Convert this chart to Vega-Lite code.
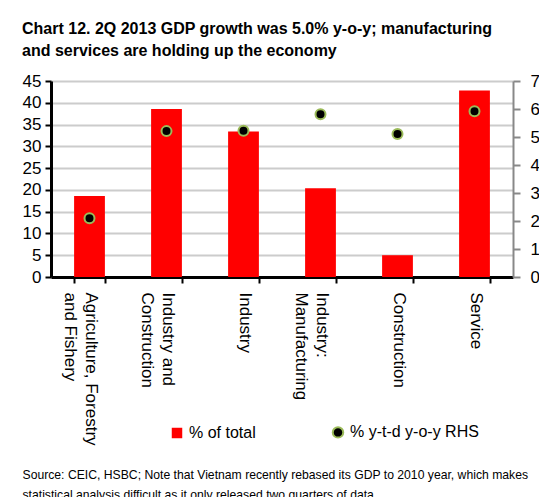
{
  "$schema": "https://vega.github.io/schema/vega-lite/v6.json",
  "width": 462,
  "height": 196,
  "autosize": {"type": "none"},
  "padding": {"left": 51, "top": 81, "right": 26, "bottom": 220},
  "background": "white",
  "title": {
    "text": ["Chart 12. 2Q 2013 GDP growth was 5.0% y-o-y; manufacturing", "and services are holding up the economy"],
    "anchor": "start",
    "frame": "group",
    "dx": -29,
    "offset": 13,
    "font": "Liberation Sans",
    "fontSize": 16,
    "fontWeight": "bold",
    "lineHeight": 22,
    "color": "#000000"
  },
  "data": {
    "values": [
      {"sector": "Agriculture, Forestry|and Fishery", "share": 18.6, "growth": 2.1},
      {"sector": "Industry and|Construction", "share": 38.6, "growth": 5.21},
      {"sector": "Industry", "share": 33.4, "growth": 5.22},
      {"sector": "Industry:|Manufacturing", "share": 20.4, "growth": 5.81},
      {"sector": "Construction", "share": 5.0, "growth": 5.11},
      {"sector": "Service", "share": 42.8, "growth": 5.92}
    ]
  },
  "encoding": {
    "x": {
      "field": "sector",
      "type": "nominal",
      "sort": null,
      "scale": {"paddingInner": 0.6, "paddingOuter": 0.3},
      "axis": {
        "title": ["Source: CEIC, HSBC; Note that Vietnam recently rebased its GDP to 2010 year, which makes", "statistical analysis difficult as it only released two quarters of data"],
        "titleFont": "Liberation Sans",
        "titleFontSize": 12.2,
        "titleFontWeight": "normal",
        "titleColor": "#000000",
        "titleAnchor": "start",
        "titleAlign": "left",
        "titleAngle": 0,
        "titleBaseline": "alphabetic",
        "titleX": -29,
        "titleY": 201,
        "titleLineHeight": 20,
        "labelExpr": "split(datum.label, '|')",
        "labelAngle": 90,
        "labelAlign": "left",
        "labelBaseline": "middle",
        "labelFont": "Liberation Sans",
        "labelFontSize": 17,
        "labelColor": "#000000",
        "labelLineHeight": 21,
        "labelPadding": 9,
        "labelLimit": 0,
        "labelOffset": 1,
        "tickBand": "extent",
        "tickSize": 6,
        "tickWidth": 2,
        "tickColor": "#000000",
        "domainColor": "#000000",
        "domainWidth": 3,
        "grid": false
      }
    }
  },
  "layer": [
    {
      "mark": {"type": "bar", "color": "#ff0000"},
      "encoding": {
        "y": {
          "field": "share",
          "type": "quantitative",
          "scale": {"domain": [0, 45], "nice": false},
          "axis": {
            "title": null,
            "values": [0, 5, 10, 15, 20, 25, 30, 35, 40, 45],
            "labelFont": "Liberation Sans",
            "labelFontSize": 17,
            "labelColor": "#000000",
            "labelPadding": 4,
            "tickSize": 6,
            "tickWidth": 2,
            "tickColor": "#000000",
            "domainColor": "#000000",
            "domainWidth": 3,
            "grid": true,
            "gridColor": "#cccccc",
            "gridWidth": 2
          }
        },
        "color": {
          "datum": "% of total",
          "scale": {"domain": ["% of total", "% y-t-d y-o-y RHS"], "range": ["#ff0000", "#000000"]},
          "legend": {
            "title": null,
            "orient": "none",
            "legendX": 118,
            "legendY": 343,
            "direction": "horizontal",
            "columnPadding": 72,
            "labelFont": "Liberation Sans",
            "labelFontSize": 16,
            "labelColor": "#000000",
            "labelOffset": 4,
            "symbolSize": 110,
            "encode": {
              "symbols": {
                "update": {
                  "shape": {"signal": "datum.value === '% of total' ? 'square' : 'circle'"},
                  "fill": {"signal": "datum.value === '% of total' ? '#ff0000' : '#000000'"},
                  "stroke": {"signal": "datum.value === '% of total' ? '#ff0000' : '#9bbb59'"},
                  "strokeWidth": {"signal": "datum.value === '% of total' ? 0 : 2"},
                  "opacity": {"value": 1}
                }
              }
            }
          }
        }
      }
    },
    {
      "mark": {"type": "point", "filled": true, "stroke": "#9bbb59", "strokeWidth": 2, "size": 100, "opacity": 1, "shape": "circle"},
      "encoding": {
        "y": {
          "field": "growth",
          "type": "quantitative",
          "scale": {"domain": [0, 7], "nice": false},
          "axis": {
            "title": null,
            "orient": "right",
            "values": [0, 1, 2, 3, 4, 5, 6, 7],
            "labelFont": "Liberation Sans",
            "labelFontSize": 17,
            "labelColor": "#000000",
            "labelPadding": 10,
            "tickSize": 7,
            "tickWidth": 2,
            "tickColor": "#888888",
            "domainColor": "#888888",
            "domainWidth": 2,
            "grid": false
          }
        },
        "color": {"datum": "% y-t-d y-o-y RHS"}
      }
    }
  ],
  "resolve": {"scale": {"y": "independent"}},
  "config": {"view": {"stroke": null}}
}
